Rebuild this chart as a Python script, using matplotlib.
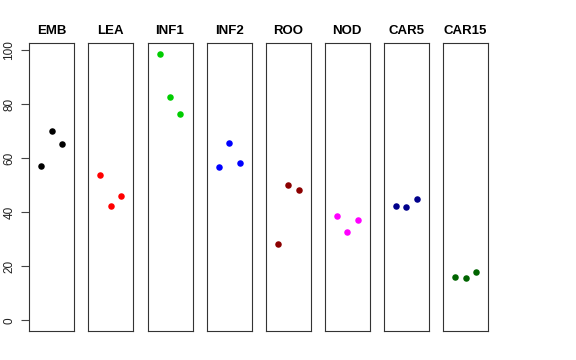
import numpy as np
import matplotlib
matplotlib.use('Agg')
import matplotlib.pyplot as plt

plt.rcParams['font.family'] = ['Liberation Sans', 'DejaVu Sans']

# tissues and their replicate values
tissues = ['EMB', 'LEA', 'INF1', 'INF2', 'ROO', 'NOD', 'CAR5', 'CAR15']
colours = ['black', 'red', '#00cd00', 'blue', '#8b0000', 'magenta', '#00008b', '#006400']
emb = [56.9, 70.0, 65.1]
lea = [53.8, 42.4, 46.0]
inf1 = [98.5, 82.5, 76.3]
inf2 = [56.6, 65.5, 58.1]
roo = [28.3, 50.0, 48.2]
nod = [38.6, 32.7, 37.2]
car5 = [42.1, 42.0, 44.9]
car15 = [16.0, 15.5, 17.8]
values = [emb, lea, inf1, inf2, roo, nod, car5, car15]
reps = [1, 2, 3]

W, H = 576, 360
fig = plt.figure(figsize=(W / 100, H / 100), dpi=100)

ymax = max(max(v) for v in values)
pad = 0.04 * ymax
left0 = 29.3
step = 59.1
width = 45.0
top, bottom = 43.3, 331.0

for i, (name, col, vals) in enumerate(zip(tissues, colours, values)):
    x0 = left0 + i * step
    ax = fig.add_axes([x0 / W, 1 - bottom / H, width / W, (bottom - top) / H])
    ax.scatter(reps, vals, s=22, color=col, zorder=3, linewidths=0)
    ax.set_xlim(-0.16, 4.16)
    ax.set_ylim(-pad, ymax + pad)
    ax.set_xticks([])
    for sp in ax.spines.values():
        sp.set_linewidth(0.8)
        sp.set_color('#333333')
    ax.set_title(name, fontsize=9.5, fontweight='bold', pad=7)
    if i == 0:
        ax.set_yticks([0, 20, 40, 60, 80, 100])
        ax.tick_params(axis='y', length=6, width=0.8, color='#444444',
                       labelsize=8.5, pad=4, labelcolor='#222222')
        for lab in ax.get_yticklabels():
            lab.set_rotation(90)
            lab.set_va('center')
    else:
        ax.set_yticks([])

fig.savefig('out.png', dpi=100)
